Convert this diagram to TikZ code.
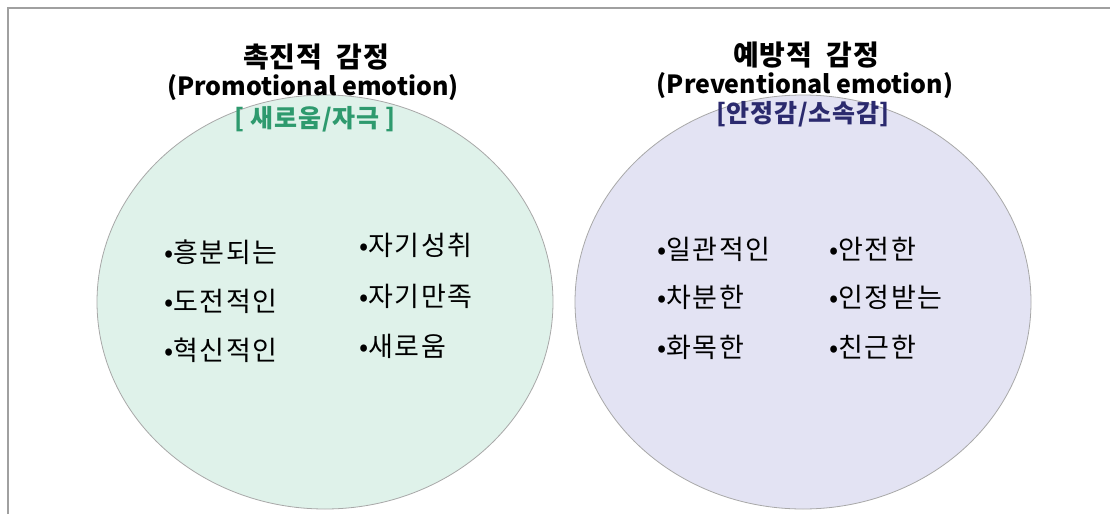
\documentclass[tikz,border=0pt]{standalone}
\usepackage{fontspec}
\usetikzlibrary{shapes.geometric}
\setmainfont{Noto Sans CJK KR}
\newfontfamily\kr{Noto Sans CJK KR}
\newfontfamily\kritem[LetterSpace=6]{Noto Sans CJK KR}
\newfontfamily\krtag[LetterSpace=3]{Noto Sans CJK KR}
\newcommand{\bulmark}{{\kr\fontsize{27}{30}\selectfont •}}
\definecolor{greenfill}{HTML}{DFF2EA}
\definecolor{purplefill}{HTML}{E3E3F3}
\definecolor{greentext}{HTML}{2E9A6E}
\definecolor{bluetext}{HTML}{2B2A6E}
\definecolor{framegray}{HTML}{A0A0A0}
\definecolor{edgegray}{HTML}{A8A8A8}
\begin{document}
\begin{tikzpicture}[x=1pt,y=-1pt,
  blob/.style={draw=edgegray, line width=0.8pt, ellipse, minimum width=456pt, minimum height=414pt, inner sep=0pt},
  title/.style={font=\krtag\bfseries\fontsize{28}{32}\selectfont, inner sep=0pt},
  sub/.style={font=\kr\bfseries\fontsize{25}{28}\selectfont, inner sep=0pt},
  tag/.style={font=\krtag\bfseries\fontsize{25}{28}\selectfont, inner sep=0pt},
  item/.style={font=\kritem\fontsize{27}{30}\selectfont, inner sep=0pt, anchor=west}]
\useasboundingbox (0,0) rectangle (1110,514);
\fill[white] (0,0) rectangle (1110,514);
\draw[framegray, line width=2pt] (8,514) -- (8,8) -- (1110,8);
% ellipses
\node[blob, fill=greenfill] (pro) at (325,302) {};
\node[blob, fill=purplefill] (pre) at (803,302) {};
% titles
\node[title] (t1) at (316,57) {촉진적\ \ 감정};
\node[sub] (s1) at (313,88) {(Promotional emotion)};
\node[tag, text=greentext] (g1) at (315,119) {[\ 새로움/자극\ ]};
\node[title] (t2) at (806,55) {예방적\ \ 감정};
\node[sub] (s2) at (805,86) {(Preventional emotion)};
\node[tag, text=bluetext] (g2) at (803,114) {[안정감/소속감]};
% left items
\node[item] (a1) at (164,252) {\bulmark 흥분되는};
\node[item] (a2) at (164,301) {\bulmark 도전적인};
\node[item] (a3) at (164,350) {\bulmark 혁신적인};
\node[item] (b1) at (359,245) {\bulmark 자기성취};
\node[item] (b2) at (359,296) {\bulmark 자기만족};
\node[item] (b3) at (359,346) {\bulmark 새로움};
% right items
\node[item] (c1) at (657,249) {\bulmark 일관적인};
\node[item] (c2) at (657,297) {\bulmark 차분한};
\node[item] (c3) at (657,347) {\bulmark 화목한};
\node[item] (d1) at (829,249) {\bulmark 안전한};
\node[item] (d2) at (829,297) {\bulmark 인정받는};
\node[item] (d3) at (829,347) {\bulmark 친근한};
\end{tikzpicture}
\end{document}
